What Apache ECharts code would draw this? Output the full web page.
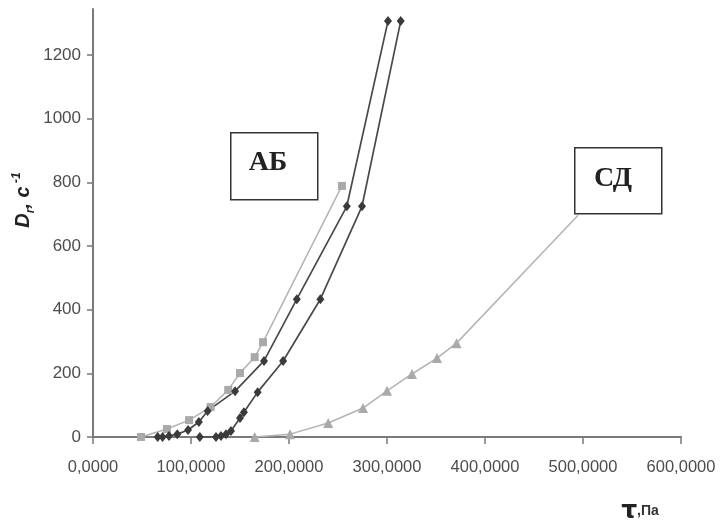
<!DOCTYPE html>
<html><head><meta charset="utf-8">
<script src="https://cdn.jsdelivr.net/npm/echarts@6/dist/echarts.min.js"></script>
<style>html,body{margin:0;padding:0;background:#fff}#c{width:721px;height:526px}</style>
</head><body><div id="c"></div>
<script>
// Data (x = τ, Pa; y = D_r, s^-1)
const abLightX = [49, 75.5, 98, 120, 138, 150, 165, 173.5, 254];
const abLightY = [0, 25, 53, 94, 148, 201, 251, 298, 789];
const abDark1X = [66, 71, 77.5, 86, 97, 108, 117, 145, 174.5, 208, 259, 301];
const abDark1Y = [0, 0, 3, 9, 22, 47, 82, 144, 239, 433, 725, 1307];
const abDark2X = [109, 125.5, 130.6, 135.7, 140.8, 150, 154, 168, 194, 232, 274.5, 314];
const abDark2Y = [0, 0, 3, 9, 19, 60, 78, 141, 239, 433, 725, 1307];
const sdX = [165, 201, 240, 275.5, 300, 325.5, 351, 371];
const sdY = [0, 9, 44, 91, 145, 198, 248, 295];
const sdLeader = [[371, 295], [495, 697]];
const xTicks = [0, 100, 200, 300, 400, 500, 600];
const yTicks = [0, 200, 400, 600, 800, 1000, 1200];

const zip = (xs, ys) => xs.map((x, i) => [x, ys[i]]);
const chart = echarts.init(document.getElementById('c'));
const axisCol = '#7a7a7a';
const labCol = '#4d4d4d';
chart.setOption({
  animation: false,
  grid: {left: 93, right: 40, top: 9, bottom: 89, containLabel: false},
  xAxis: {
    type: 'value', min: xTicks[0], max: xTicks[xTicks.length - 1], interval: 100,
    splitLine: {show: false},
    axisLine: {lineStyle: {color: axisCol, width: 2}},
    axisTick: {length: 7, lineStyle: {color: axisCol, width: 1.5}},
    axisLabel: {color: labCol, fontSize: 16.5, fontFamily: 'Liberation Sans, Arial', margin: 22,
      formatter: v => v.toFixed(4).replace('.', ',')}
  },
  yAxis: {
    type: 'value', min: yTicks[0], max: 1345, interval: 200,
    splitLine: {show: false},
    axisLine: {show: true, lineStyle: {color: axisCol, width: 2}},
    axisTick: {show: true, length: 6, lineStyle: {color: axisCol, width: 1.5}},
    axisLabel: {color: labCol, fontSize: 17, fontFamily: 'Liberation Sans, Arial', margin: 12, showMaxLabel: false,
      formatter: v => (yTicks.indexOf(v) >= 0 ? String(v) : '')}
  },
  series: [
    {type: 'line', data: zip(abLightX, abLightY), symbol: 'rect', symbolSize: 8,
      lineStyle: {color: '#b3b3b3', width: 1.5}, itemStyle: {color: '#a9a9a9'}},
    {type: 'line', data: zip(abDark1X, abDark1Y), symbol: 'diamond', symbolSize: [8, 10],
      lineStyle: {color: '#4a4a4a', width: 1.7}, itemStyle: {color: '#3a3a3a'}},
    {type: 'line', data: zip(abDark2X, abDark2Y), symbol: 'diamond', symbolSize: [8, 10],
      lineStyle: {color: '#4a4a4a', width: 1.7}, itemStyle: {color: '#3a3a3a'}},
    {type: 'line', data: zip(sdX, sdY), symbol: 'triangle', symbolSize: 10,
      lineStyle: {color: '#b3b3b3', width: 1.5}, itemStyle: {color: '#a9a9a9'},
      markLine: {silent: true, symbol: 'none', label: {show: false},
        lineStyle: {color: '#b3b3b3', width: 1.5, type: 'solid'},
        data: [[{coord: sdLeader[0]}, {coord: sdLeader[1]}]]}}
  ],
  graphic: [
    {type: 'rect', left: 230, top: 132, z: 100, shape: {width: 87, height: 67},
      style: {fill: '#fff', stroke: '#333', lineWidth: 1.5}},
    {type: 'text', x: 268, y: 163, z: 101,
      style: {text: 'АБ', fill: '#222', font: 'bold 28px "Liberation Serif", "DejaVu Serif", serif', align: 'center', verticalAlign: 'middle'}},
    {type: 'rect', left: 574, top: 147, z: 100, shape: {width: 87, height: 66},
      style: {fill: '#fff', stroke: '#333', lineWidth: 1.5}},
    {type: 'text', x: 613, y: 179, z: 101,
      style: {text: 'СД', fill: '#222', font: 'bold 28px "Liberation Serif", "DejaVu Serif", serif', align: 'center', verticalAlign: 'middle'}},
    {type: 'text', x: 22, y: 200, rotation: Math.PI / 2, z: 101,
      style: {text: '{d|D}{s|r}{d|, c}{p| -1}', align: 'center', verticalAlign: 'middle',
        rich: {
          d: {font: 'italic bold 20px "Liberation Sans", Arial', fill: '#222', verticalAlign: 'bottom'},
          s: {font: 'italic bold 12px "Liberation Sans", Arial', fill: '#222', verticalAlign: 'bottom', padding: [0, 0, -4, 0]},
          p: {font: 'italic bold 12px "Liberation Sans", Arial', fill: '#222', verticalAlign: 'top', padding: [0, 0, 10, 0]}
        }}},
    {type: 'text', x: 640, y: 511, z: 101,
      style: {text: '{t|τ}{u|,Па}', align: 'center', verticalAlign: 'middle',
        rich: {
          t: {font: 'bold 25px "DejaVu Sans", sans-serif', fill: '#222'},
          u: {font: 'bold 14px "Liberation Sans", Arial', fill: '#333'}
        }}}
  ]
});
</script></body></html>
